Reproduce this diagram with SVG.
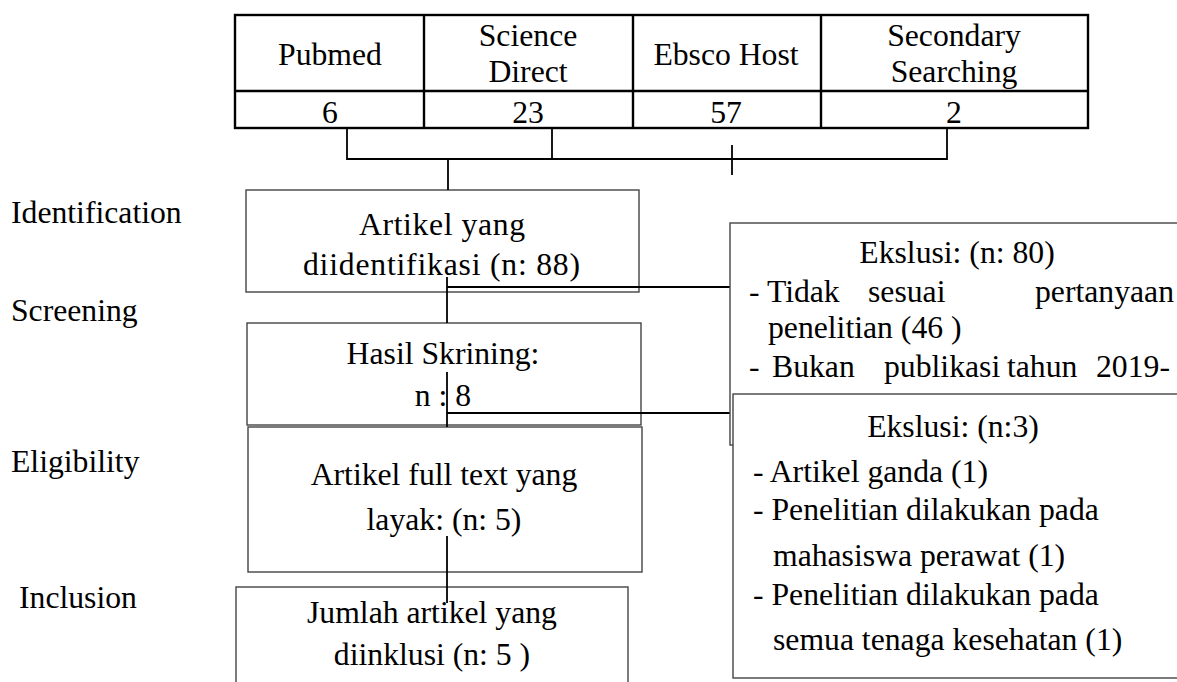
<svg xmlns="http://www.w3.org/2000/svg" width="1177" height="682" viewBox="0 0 1177 682">
<style>
text{font-family:"Liberation Serif","Times New Roman",serif;font-size:31.7px;fill:#000}
.c{text-anchor:middle}
.box{fill:#fff;stroke:#444;stroke-width:1.4}
.tbl{fill:none;stroke:#000;stroke-width:2.4}
.ln{fill:none;stroke:#000;stroke-width:1.8}
</style>
<rect width="1177" height="682" fill="#fff"/>

<g id="sources">
<rect class="tbl" x="235" y="15" width="853" height="113"/>
<line class="tbl" x1="235" y1="91" x2="1088" y2="91"/>
<line class="tbl" x1="424" y1="15" x2="424" y2="128"/>
<line class="tbl" x1="633" y1="15" x2="633" y2="128"/>
<line class="tbl" x1="821" y1="15" x2="821" y2="128"/>
<text class="c" x="330" y="65">Pubmed</text>
<text class="c" x="528" y="45.5">Science</text>
<text class="c" x="528" y="81.5">Direct</text>
<text class="c" x="726" y="65">Ebsco Host</text>
<text class="c" x="954" y="45.5">Secondary</text>
<text class="c" x="954" y="81.5">Searching</text>
<text class="c" x="330" y="123">6</text>
<text class="c" x="528" y="123">23</text>
<text class="c" x="726" y="123">57</text>
<text class="c" x="954" y="123">2</text>
</g>

<g id="stages">
<text x="11" y="223">Identification</text>
<text x="11" y="321">Screening</text>
<text x="11" y="472">Eligibility</text>
<text x="19" y="608">Inclusion</text>
</g>

<g id="identified">
<rect class="box" x="246" y="190" width="393" height="102"/>
<text x="359" y="235" textLength="166" lengthAdjust="spacing">Artikel yang</text>
<text x="303" y="275" textLength="277" lengthAdjust="spacing">diidentifikasi (n: 88)</text>
</g>

<g id="screened">
<rect class="box" x="247" y="323" width="394" height="102"/>
<text class="c" x="443" y="364">Hasil Skrining:</text>
<text class="c" x="443" y="406">n : 8</text>
</g>

<g id="eligible">
<rect class="box" x="248" y="427" width="394" height="145"/>
<text class="c" x="444" y="485">Artikel full text yang</text>
<text class="c" x="444" y="530">layak: (n: 5)</text>
</g>

<g id="included">
<rect class="box" x="236" y="587" width="392" height="120"/>
<text class="c" x="432" y="623">Jumlah artikel yang</text>
<text class="c" x="432" y="665">diinklusi (n: 5 )</text>
</g>

<g id="connectors">
<polyline class="ln" points="347,128 347,159 947,159 947,128"/>
<line class="ln" x1="552" y1="128" x2="552" y2="159"/>
<line class="ln" x1="732" y1="145" x2="732" y2="175"/>
<line class="ln" x1="448" y1="159" x2="448" y2="190"/>
<line class="ln" x1="447" y1="277" x2="447" y2="323"/>
<line class="ln" x1="447" y1="287" x2="731" y2="287"/>
<line class="ln" x1="447" y1="372" x2="447" y2="427"/>
<line class="ln" x1="447" y1="413" x2="731" y2="413"/>
<line class="ln" x1="447" y1="536" x2="447" y2="603"/>
</g>

<g id="exclusion1">
<rect class="box" x="730" y="223" width="500" height="222"/>
<text class="c" x="957" y="263">Ekslusi: (n: 80)</text>
<text y="302"><tspan x="749">- Tidak</tspan><tspan x="868">sesuai</tspan><tspan x="1035">pertanyaan</tspan></text>
<text x="768" y="338">penelitian (46 )</text>
<text y="377"><tspan x="749">-</tspan><tspan x="772">Bukan</tspan><tspan x="884">publikasi</tspan><tspan x="1007">tahun</tspan><tspan x="1096">2019-</tspan></text>
</g>

<g id="exclusion2">
<rect class="box" x="733" y="394" width="500" height="284"/>
<text class="c" x="953" y="437">Ekslusi: (n:3)</text>
<text x="753" y="482">- Artikel ganda (1)</text>
<text x="753" y="520">- Penelitian dilakukan pada</text>
<text x="773" y="566">mahasiswa perawat (1)</text>
<text x="753" y="605">- Penelitian dilakukan pada</text>
<text x="773" y="650">semua tenaga kesehatan (1)</text>
</g>
</svg>
